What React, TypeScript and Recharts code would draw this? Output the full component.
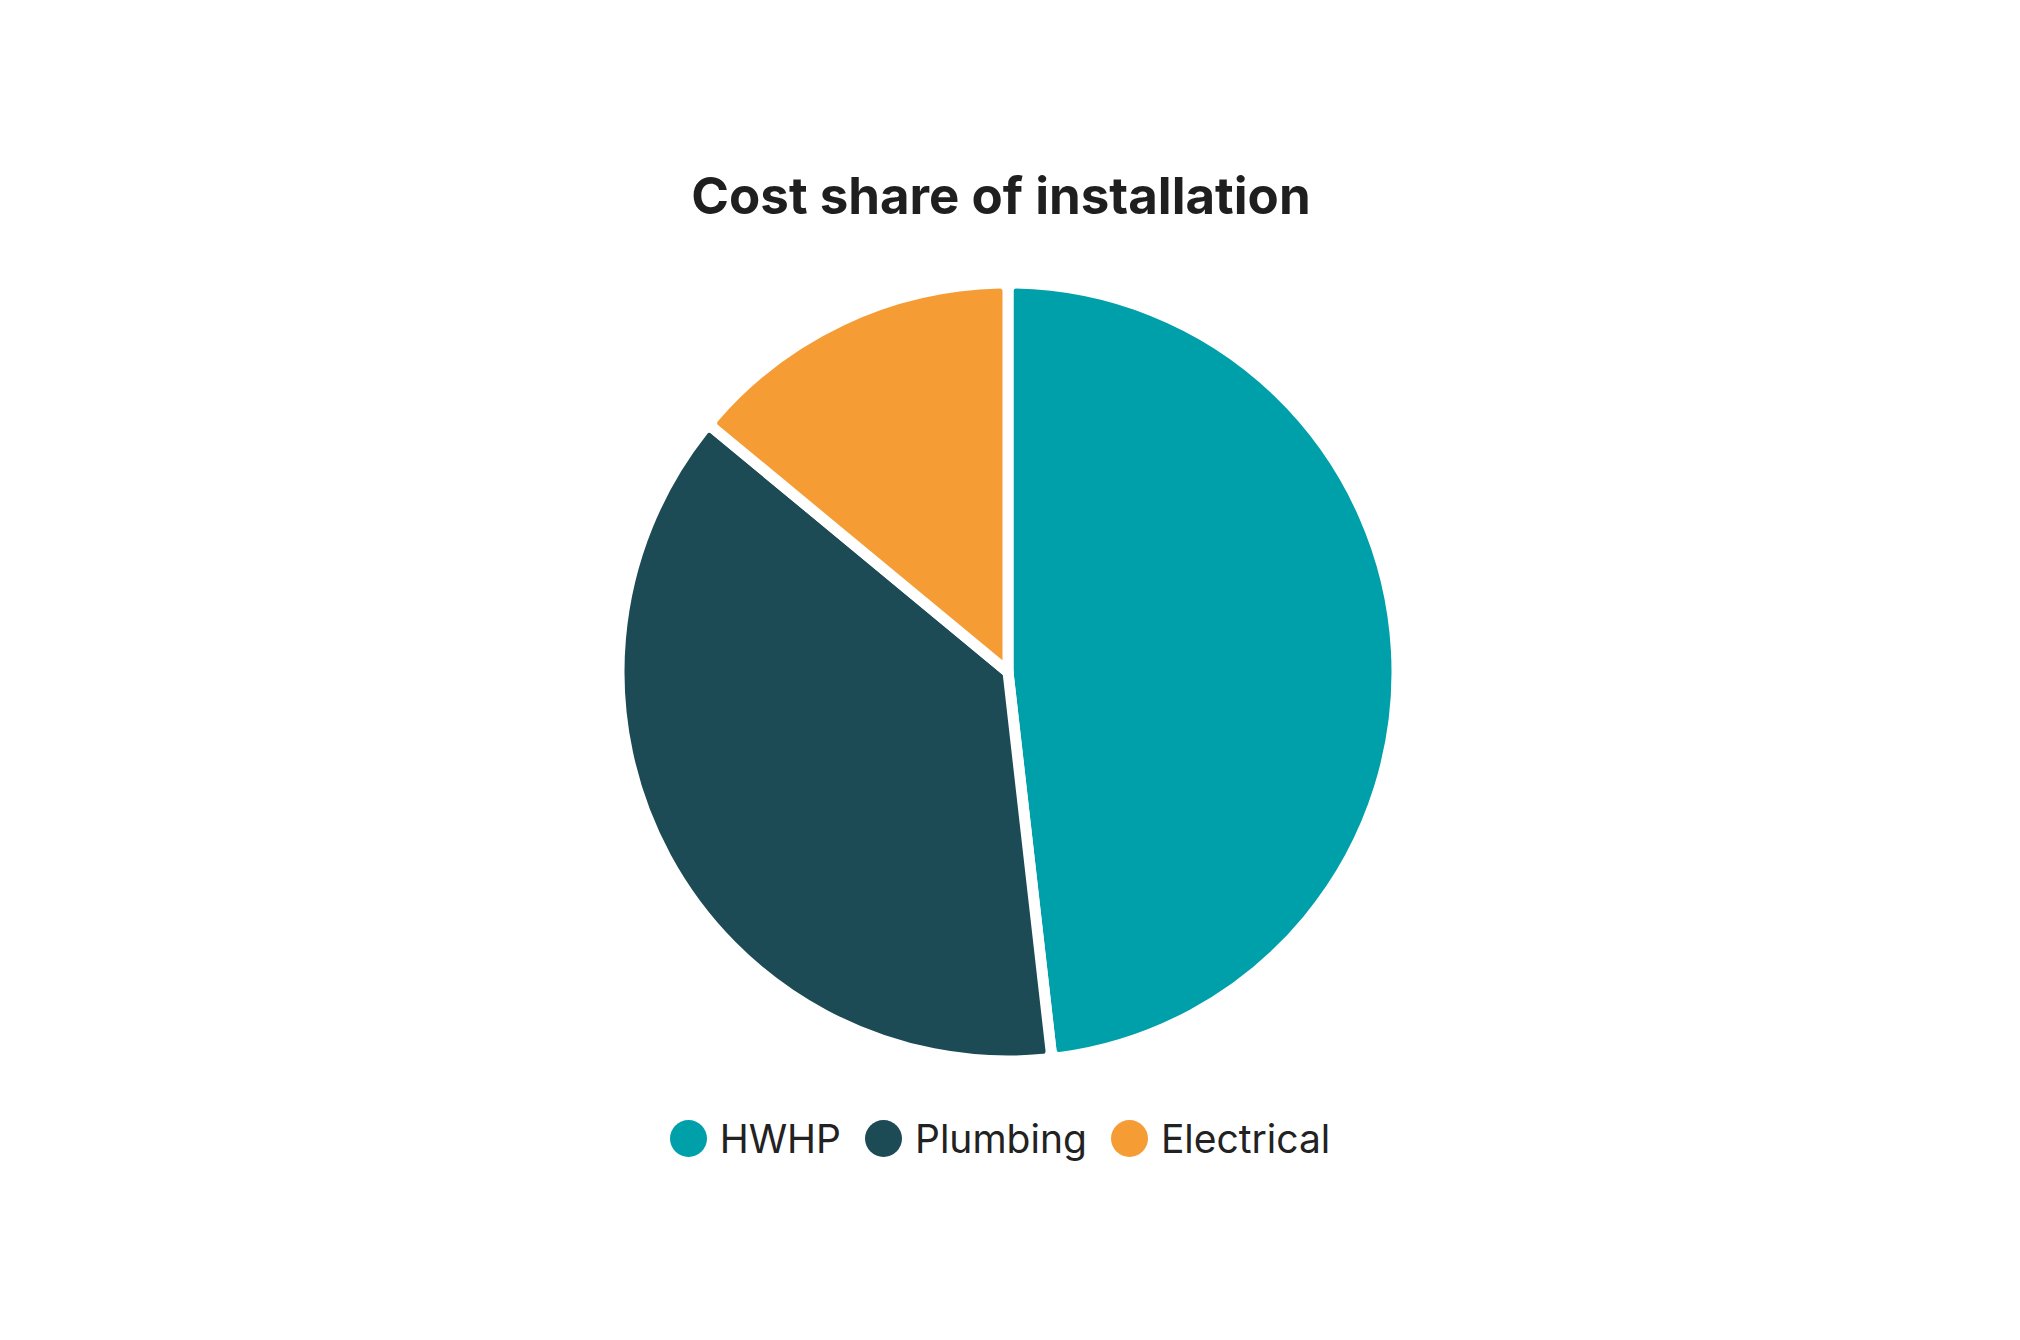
import React from "react";
import { PieChart, Pie, Cell, Legend } from "recharts";

const categories = ["HWHP", "Plumbing", "Electrical"];
const shares = [48.2, 37.8, 14];
const colors = ["#00A0AA", "#1C4B56", "#F59C35"];
const title = "Cost share of installation";

const data = categories.map((name, i) => ({ name, value: shares[i] }));

const W = 2004;
const H = 1324;

const renderLegend = (props: any) => {
  const payload = [...(props.payload || [])].sort(
    (a: any, b: any) => categories.indexOf(a.value) - categories.indexOf(b.value)
  );
  return (
    <div
      style={{
        display: "flex",
        justifyContent: "center",
        alignItems: "center",
        fontFamily: "Inter, 'Open Sans', sans-serif",
        fontSize: 39,
        color: "#222222",
      }}
    >
      {payload.map((entry: any, i: number) => (
        <div
          key={entry.value}
          style={{ display: "flex", alignItems: "center", marginRight: i < payload.length - 1 ? 24 : 0 }}
        >
          <svg width={37} height={37} style={{ marginRight: 13 }}>
            <circle cx={18.5} cy={18.5} r={18.5} fill={entry.color} />
          </svg>
          <span style={{ lineHeight: "37px" }}>{entry.value}</span>
        </div>
      ))}
    </div>
  );
};

export default function App() {
  return (
    <div style={{ position: "relative", width: W, height: H, background: "#ffffff" }}>
      <PieChart width={W} height={H}>
        <Pie
          data={data}
          dataKey="value"
          nameKey="name"
          cx={995}
          cy={659}
          outerRadius={389}
          innerRadius={0}
          startAngle={90}
          endAngle={-270}
          stroke="#ffffff"
          strokeWidth={11}
          cornerRadius={8}
          isAnimationActive={false}
          legendType="circle"
        >
          {data.map((d, i) => (
            <Cell key={d.name} fill={colors[i]} />
          ))}
        </Pie>
        <Legend
          content={renderLegend}
          wrapperStyle={{ position: "absolute", top: 1112, left: -10, width: W }}
        />
      </PieChart>
      <svg
        width={W}
        height={260}
        style={{ position: "absolute", left: 0, top: 0, pointerEvents: "none", zIndex: 2 }}
      >
        <text
          x={993}
          y={206}
          textAnchor="middle"
          fontFamily="Inter, 'Open Sans', sans-serif"
          fontWeight={700}
          fontSize={51}
          fill="#1F1F1F"
        >
          {title}
        </text>
      </svg>
    </div>
  );
}
